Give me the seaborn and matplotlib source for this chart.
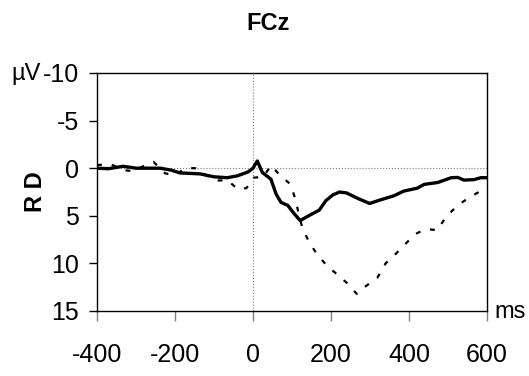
import numpy as np
import pandas as pd
import matplotlib
matplotlib.use("Agg")
import matplotlib.pyplot as plt
import seaborn as sns

# Solid waveform (ms, µV)
t_solid = [-400, -370, -333, -300, -270, -238, -210, -187, -160, -135, -101, -66, -40, -13, 0,
           11, 24, 46, 59, 72, 89, 106, 121, 144, 170, 187, 205, 222, 240, 270, 299, 329,
           361, 387, 421, 439, 474, 508, 525, 541, 567, 584, 600]
v_solid = [0.0, 0.05, -0.2, 0.0, 0.0, 0.0, 0.2, 0.5, 0.55, 0.6, 0.9, 1.0, 0.8, 0.4, 0.0,
           -0.76, 0.45, 1.15, 2.7, 3.6, 3.9, 4.8, 5.5, 4.97, 4.4, 3.4, 2.8, 2.5, 2.6, 3.2, 3.7, 3.3,
           2.9, 2.4, 2.1, 1.7, 1.5, 1.0, 0.97, 1.25, 1.2, 1.0, 1.0]

# Dashed waveform (ms, µV)
t_dash = [-400, -394, -364, -332, -310, -255, -225, -199, -173, -148, -118, -92, -66, -39, -17, 1,
          26, 47, 70, 96, 107, 126, 143, 165, 191, 217, 242, 266, 289, 319, 340, 366, 392,
          417, 443, 473, 495, 525, 550, 579, 600]
v_dash = [-0.3, -0.35, -0.4, 0.2, 0.3, -0.66, 0.55, 0.7, 0.0, 0.0, 0.8, 1.3, 1.25, 2.2, 2.1, 1.0,
          0.9, -0.3, 0.8, 1.67, 3.05, 6.2, 7.7, 9.1, 10.3, 11.2, 12.1, 13.2, 12.4, 11.5, 10.0, 9.0, 7.9,
          6.9, 6.4, 6.5, 5.1, 3.9, 3.2, 2.5, 2.0]

x_ticks = [-400, -200, 0, 200, 400, 600]
y_ticks = [-10, -5, 0, 5, 10, 15]

sns.set_style("white")
plt.rcParams['font.family'] = ['Liberation Sans', 'DejaVu Sans']
plt.rcParams['text.color'] = 'black'
plt.rcParams['xtick.labelcolor'] = 'black'
plt.rcParams['ytick.labelcolor'] = 'black'

fig = plt.figure(figsize=(5.29, 3.76), dpi=100)
ax = fig.add_axes([97/529, 1-311/376, 390/529, 238/376])

ax.axvline(0, color='gray', lw=0.8, ls=':', zorder=1)
ax.axhline(0, color='gray', lw=0.8, ls=':', zorder=1)

sns.lineplot(x=t_solid, y=v_solid, ax=ax, color='black', lw=2.4, zorder=3)
sns.lineplot(x=t_dash, y=v_dash, ax=ax, color='black', lw=1.6, linestyle=(0, (2.2, 4.5)), zorder=2)

ax.set_xlim(-400, 600)
ax.set_ylim(15, -10)
ax.set_xticks(x_ticks)
ax.set_yticks(y_ticks)
ax.set_xticklabels([str(v) for v in x_ticks], fontsize=18, color='black')
ax.set_yticklabels([str(v) for v in y_ticks], fontsize=18, color='black')
ax.tick_params(axis='y', left=True, length=6, width=1, pad=7, direction='out', colors='black')
ax.tick_params(axis='x', bottom=True, length=7, width=1, pad=16, direction='out', color='gray', labelcolor='black')
for s in ax.spines.values():
    s.set_color('black')
    s.set_linewidth(1)
ax.set_xlabel('')
ax.set_ylabel('')

fig.text(268/529, 1-23/376, 'FCz', ha='center', va='center', fontsize=17, fontweight='bold', color='black')
fig.text(35/529, 1-192/376, 'R D', ha='center', va='center', rotation=90, fontsize=17, fontweight='bold', color='black')
fig.text(11/529, 1-74/376, 'µV', ha='left', va='center', fontsize=17, color='black')
fig.text(494/529, 1-312/376, 'ms', ha='left', va='center', fontsize=17, color='black')

fig.savefig('out.png', dpi=100)
